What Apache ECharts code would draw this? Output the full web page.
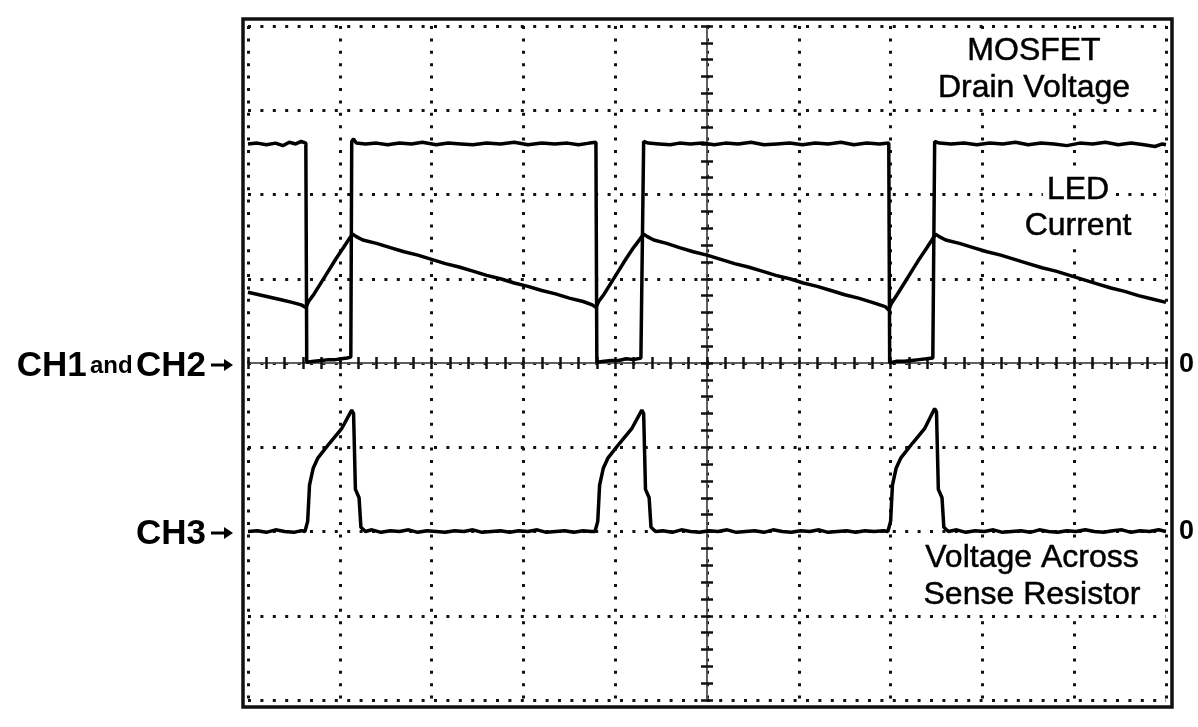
<!DOCTYPE html>
<html>
<head>
<meta charset="utf-8">
<script src="https://cdn.jsdelivr.net/npm/echarts@6/dist/echarts.min.js"></script>
<style>
html,body{margin:0;padding:0;background:#fff;}
#chart{width:1198px;height:727px;}
</style>
</head>
<body>
<div id="chart"></div>
<script>
// Time in divisions (-5 .. 5), amplitudes in divisions
const drainVoltage = [
[-5.00,2.60],[-4.90,2.61],[-4.80,2.59],[-4.70,2.61],[-4.62,2.58],[-4.55,2.62],[-4.48,2.60],[-4.42,2.63],[-4.37,2.61],
[-4.36,0.01],[-4.28,0.02],[-4.20,0.03],[-4.12,0.04],[-4.05,0.04],[-3.98,0.05],[-3.92,0.06],[-3.88,0.07],
[-3.87,2.63],[-3.85,2.66],[-3.82,2.61],[-3.72,2.60],[-3.60,2.61],[-3.48,2.59],[-3.35,2.61],[-3.22,2.60],[-3.10,2.62],[-2.95,2.59],[-2.82,2.61],[-2.68,2.60],[-2.55,2.59],[-2.40,2.61],[-2.25,2.60],[-2.10,2.62],[-1.95,2.59],[-1.80,2.61],[-1.66,2.60],[-1.52,2.61],[-1.40,2.59],[-1.28,2.61],[-1.21,2.62],
[-1.20,0.01],[-1.12,0.02],[-1.04,0.03],[-0.96,0.03],[-0.88,0.05],[-0.80,0.04],[-0.72,0.06],[-0.70,0.07],
[-0.69,2.63],[-0.67,2.65],[-0.64,2.61],[-0.52,2.60],[-0.40,2.59],[-0.30,2.61],[-0.18,2.60],[-0.05,2.61],[0.08,2.59],[0.20,2.61],[0.34,2.60],[0.48,2.62],[0.62,2.59],[0.76,2.60],[0.90,2.61],[1.04,2.59],[1.18,2.61],[1.32,2.60],[1.46,2.62],[1.60,2.59],[1.74,2.61],[1.88,2.60],[1.98,2.61],
[1.99,0.00],[2.07,0.02],[2.15,0.02],[2.23,0.03],[2.31,0.04],[2.39,0.05],[2.46,0.06],
[2.48,2.63],[2.50,2.65],[2.53,2.61],[2.66,2.60],[2.80,2.61],[2.94,2.59],[3.08,2.61],[3.22,2.60],[3.36,2.62],[3.50,2.59],[3.64,2.61],[3.78,2.60],[3.92,2.58],[4.06,2.61],[4.20,2.60],[4.34,2.62],[4.48,2.59],[4.62,2.61],[4.76,2.59],[4.88,2.57],[4.96,2.60],[5.00,2.59]
];

const ledCurrent = [
[-5.00,0.84],[-4.88,0.81],[-4.76,0.78],[-4.64,0.75],[-4.52,0.72],[-4.42,0.69],[-4.37,0.66],
[-4.34,0.73],[-4.28,0.82],[-4.20,0.96],[-4.12,1.10],[-4.04,1.24],[-3.96,1.37],[-3.90,1.47],[-3.86,1.53],
[-3.82,1.50],[-3.75,1.46],[-3.60,1.42],[-3.45,1.37],[-3.30,1.32],[-3.15,1.28],[-3.00,1.23],[-2.85,1.18],[-2.70,1.14],[-2.55,1.09],[-2.40,1.04],[-2.25,1.00],[-2.10,0.95],[-1.95,0.91],[-1.80,0.86],[-1.65,0.82],[-1.50,0.77],[-1.35,0.73],[-1.25,0.69],[-1.21,0.66],
[-1.18,0.73],[-1.12,0.82],[-1.04,0.96],[-0.96,1.10],[-0.88,1.24],[-0.80,1.37],[-0.73,1.47],[-0.69,1.53],
[-0.65,1.50],[-0.58,1.46],[-0.44,1.42],[-0.30,1.37],[-0.15,1.32],[0.00,1.28],[0.15,1.23],[0.30,1.18],[0.45,1.14],[0.60,1.09],[0.75,1.04],[0.90,1.00],[1.05,0.95],[1.20,0.91],[1.35,0.86],[1.50,0.81],[1.65,0.77],[1.80,0.72],[1.94,0.67],[1.98,0.63],
[2.01,0.71],[2.07,0.81],[2.15,0.95],[2.23,1.09],[2.31,1.23],[2.39,1.36],[2.45,1.46],[2.49,1.53],
[2.53,1.50],[2.60,1.46],[2.75,1.42],[2.90,1.37],[3.05,1.32],[3.20,1.28],[3.35,1.23],[3.50,1.18],[3.65,1.13],[3.80,1.09],[3.95,1.04],[4.10,0.99],[4.25,0.94],[4.40,0.89],[4.55,0.85],[4.70,0.80],[4.85,0.76],[5.00,0.72]
];

const senseVoltage = [
[-5.00,0.00],[-4.90,0.01],[-4.80,-0.01],[-4.70,0.02],[-4.60,0.00],[-4.50,-0.01],[-4.42,0.01],[-4.38,0.00],
[-4.35,0.12],[-4.33,0.55],[-4.29,0.75],[-4.24,0.87],[-4.11,1.05],[-3.98,1.22],[-3.87,1.44],[-3.85,1.40],[-3.83,0.50],[-3.79,0.40],[-3.77,0.05],[-3.72,0.00],
[-3.65,0.02],[-3.55,-0.01],[-3.45,0.01],[-3.35,0.00],[-3.25,0.02],[-3.15,-0.01],[-3.05,0.01],[-2.95,0.00],[-2.85,-0.01],[-2.75,0.01],[-2.65,0.00],[-2.55,0.02],[-2.45,-0.01],[-2.35,0.00],[-2.25,0.01],[-2.15,-0.01],[-2.05,0.01],[-1.95,0.00],[-1.85,0.02],[-1.75,-0.01],[-1.65,0.00],[-1.55,0.01],[-1.45,-0.01],[-1.35,0.01],[-1.26,0.00],[-1.22,0.00],
[-1.19,0.12],[-1.17,0.55],[-1.13,0.75],[-1.08,0.87],[-0.95,1.05],[-0.82,1.22],[-0.71,1.44],[-0.69,1.40],[-0.67,0.50],[-0.63,0.40],[-0.61,0.05],[-0.56,0.00],
[-0.48,0.01],[-0.38,-0.01],[-0.28,0.02],[-0.18,0.00],[-0.08,-0.01],[0.02,0.01],[0.12,0.00],[0.22,0.02],[0.32,-0.01],[0.42,0.00],[0.52,0.01],[0.62,-0.01],[0.72,0.02],[0.82,0.00],[0.92,-0.01],[1.02,0.01],[1.12,0.00],[1.22,0.02],[1.32,-0.01],[1.42,0.00],[1.52,0.01],[1.62,-0.01],[1.72,0.01],[1.82,0.00],[1.92,0.01],[1.97,0.00],
[2.00,0.12],[2.02,0.55],[2.06,0.75],[2.11,0.87],[2.24,1.05],[2.37,1.22],[2.48,1.46],[2.50,1.42],[2.52,0.50],[2.56,0.40],[2.58,0.05],[2.63,0.00],
[2.72,0.02],[2.82,-0.01],[2.92,0.01],[3.02,0.00],[3.12,0.02],[3.22,-0.01],[3.32,0.00],[3.42,0.01],[3.52,-0.01],[3.62,0.02],[3.72,0.00],[3.82,-0.01],[3.92,0.01],[4.02,0.00],[4.12,0.02],[4.22,0.00],[4.32,-0.01],[4.42,0.01],[4.52,0.02],[4.62,-0.01],[4.72,0.01],[4.82,0.00],[4.92,0.02],[5.00,0.00]
];

const traceLabels = [
  {lines: ['MOSFET', 'Drain Voltage'], x: 1034, y: [51, 88]},
  {lines: ['LED', 'Current'], x: 1078, y: [190, 226]},
  {lines: ['Voltage Across', 'Sense Resistor'], x: 1032, y: [558, 595]}
];
const channelLabels = ['CH1', 'and', 'CH2', 'CH3'];
const zeroLabel = '0';

const FONT = '"Liberation Sans", Arial, sans-serif';
const chart = echarts.init(document.getElementById('chart'), null, {renderer: 'canvas'});

const dotted = {color: '#111', width: 3, type: [3, 9.4], cap: 'butt'};
const tickStyle = {color: '#111', width: 2.5};

function xAx(pos, split) {
  return {
    type: 'value', min: -5, max: 5, interval: 1, position: pos,
    axisLine: {show: true, onZero: true, onZeroAxisIndex: 0, lineStyle: {color: '#555', width: 1.5}},
    axisTick: {show: true, length: 6, lineStyle: tickStyle},
    minorTick: {show: true, splitNumber: 5, length: 6, lineStyle: tickStyle},
    axisLabel: {show: false},
    splitLine: {show: split, lineStyle: dotted},
    minorSplitLine: {show: false}
  };
}
function yAx(pos, split) {
  return {
    type: 'value', min: -4, max: 4, interval: 1, position: pos,
    axisLine: {show: true, onZero: true, onZeroAxisIndex: 0, lineStyle: {color: '#555', width: 1.5}},
    axisTick: {show: true, length: 6, lineStyle: tickStyle},
    minorTick: {show: true, splitNumber: 5, length: 6, lineStyle: tickStyle},
    axisLabel: {show: false},
    splitLine: {show: split, lineStyle: dotted},
    minorSplitLine: {show: false}
  };
}

const graphics = [
  {type: 'rect', shape: {x: 243, y: 19, width: 929, height: 688}, style: {fill: null, stroke: '#111', lineWidth: 3.5}, z: 100}
];
traceLabels.forEach(l => {
  l.lines.forEach((t, i) => {
    graphics.push({type: 'text', x: l.x, y: l.y[i], z: 90,
      style: {text: t, font: '32px ' + FONT, fill: '#000', stroke: '#000', lineWidth: 0.5,
        backgroundColor: '#fff', padding: [2, 4, 1, 4], align: 'center', verticalAlign: 'middle'}});
  });
});
graphics.push({type: 'text', x: 206, y: 366, z: 100,
  style: {text: '{a|' + channelLabels[0] + '} {b|' + channelLabels[1] + '} {a|' + channelLabels[2] + '}', align: 'right', verticalAlign: 'middle',
    rich: {a: {font: 'bold 35px ' + FONT, fill: '#000'}, b: {font: 'bold 24px ' + FONT, fill: '#000'}}}});
graphics.push({type: 'text', x: 206, y: 534, z: 100,
  style: {text: channelLabels[3], font: 'bold 35px ' + FONT, fill: '#000', align: 'right', verticalAlign: 'middle'}});
[365, 533].forEach(yy => {
  graphics.push({type: 'line', shape: {x1: 211, y1: yy, x2: 226, y2: yy}, style: {stroke: '#000', lineWidth: 3}, z: 100});
  graphics.push({type: 'polygon', shape: {points: [[224, yy - 6], [233, yy], [224, yy + 6]]}, style: {fill: '#000'}, z: 100});
});
[365, 532].forEach(yy => {
  graphics.push({type: 'text', x: 1179, y: yy, z: 100,
    style: {text: zeroLabel, font: 'bold 27px ' + FONT, fill: '#000', align: 'left', verticalAlign: 'middle'}});
});

const lineSeries = (data, yIdx) => ({
  type: 'line', data: data, xAxisIndex: 0, yAxisIndex: yIdx,
  showSymbol: false, symbol: 'none', smooth: false, animation: false,
  lineStyle: {color: '#000', width: 3.5}, z: 10
});

chart.setOption({
  backgroundColor: '#fff',
  animation: false,
  grid: {left: 248, top: 26, width: 918, height: 674, containLabel: false},
  xAxis: [xAx('bottom', true), xAx('top', false)],
  yAxis: [yAx('left', true), yAx('right', false),
    {type: 'value', min: -2, max: 6, show: false, axisLine: {onZero: false}, splitLine: {show: false}}],
  series: [lineSeries(drainVoltage, 0), lineSeries(ledCurrent, 0), lineSeries(senseVoltage, 2)],
  graphic: graphics
});
</script>
</body>
</html>
